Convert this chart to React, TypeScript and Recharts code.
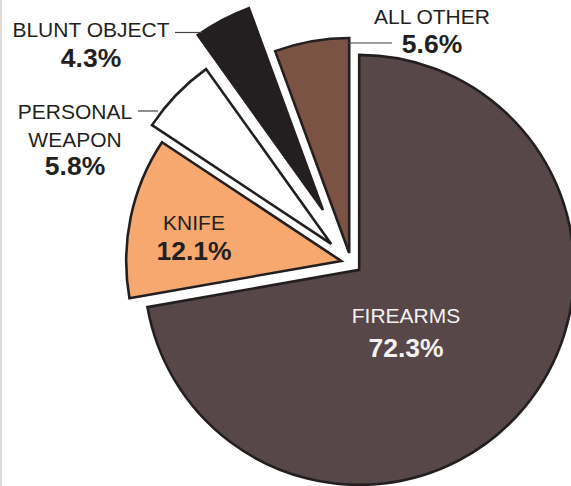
import React from 'react';
import { PieChart, Pie, Cell } from 'recharts';

// ---- data ----
const categories = ['FIREARMS', 'KNIFE', 'PERSONAL WEAPON', 'BLUNT OBJECT', 'ALL OTHER'];
const shares = [72.3, 12.1, 5.8, 4.3, 5.6];
const labelLines = [['FIREARMS'], ['KNIFE'], ['PERSONAL', 'WEAPON'], ['BLUNT OBJECT'], ['ALL OTHER']];
const pctLabels = ['72.3%', '12.1%', '5.8%', '4.3%', '5.6%'];

// ---- styling ----
const colors = ['#574748', '#F6A86E', '#FFFFFF', '#231F20', '#7B5345'];
const explode = [10.7, 10, 27.5, 60, 10.2];
const textColors = ['#F4F1F1', '#231F20', '#231F20', '#231F20', '#231F20'];
// label anchor: [centerX, first line baseline]
const labelPos = [
  [406, 323],
  [194, 230],
  [75, 119],
  [91, 37],
  [432, 24],
];
const pctBaseline = [357, 260, 175, 67, 53];
const leaders: (number[] | null)[] = [null, null, [138, 111, 158, 111], [175, 32.5, 202, 32.5], [347, 43, 392, 43]];

const CX = 351;
const CY = 263;
const R = 215;

const data = categories.map((name, i) => ({ name, value: shares[i] }));
const total = shares.reduce((a, b) => a + b, 0);

function midAngleDeg(i: number) {
  let before = 0;
  for (let k = 0; k < i; k++) before += shares[k];
  return ((before + shares[i] / 2) / total) * 360;
}

const FONT = '"Liberation Sans", Arial, Helvetica, sans-serif';

const renderLabels = (props: any) => {
  const i = props.index;
  const [x, y] = labelPos[i];
  const lines = labelLines[i];
  const lh = 27.5;
  return (
    <g key={`lbl-${i}`}>
      {leaders[i] && (
        <line
          x1={leaders[i]![0]}
          y1={leaders[i]![1]}
          x2={leaders[i]![2]}
          y2={leaders[i]![3]}
          stroke="#444"
          strokeWidth={1.2}
        />
      )}
      {lines.map((t, k) => (
        <text
          key={k}
          x={x}
          y={y + k * lh}
          textAnchor="middle"
          fill={textColors[i]}
          fontFamily={FONT}
          fontSize={21}
        >
          {t}
        </text>
      ))}
      <text
        x={x}
        y={pctBaseline[i]}
        textAnchor="middle"
        fill={textColors[i]}
        fontFamily={FONT}
        fontSize={26.5}
        fontWeight="bold"
      >
        {pctLabels[i]}
      </text>
    </g>
  );
};

export default function App() {
  return (
    <div style={{ position: 'fixed', left: 0, top: 0, width: 571, height: 486, background: '#fff' }}>
      <div style={{ position: 'absolute', left: 0, top: 0, width: 2, height: 486, background: '#e2dbd8' }} />
      <PieChart width={571} height={486} margin={{ top: 0, right: 0, bottom: 0, left: 0 }}>
        {categories.map((_, i) => {
          const m = (midAngleDeg(i) * Math.PI) / 180;
          const cx = CX + explode[i] * Math.sin(m);
          const cy = CY - explode[i] * Math.cos(m);
          return (
            <Pie
              key={i}
              data={data}
              dataKey="value"
              nameKey="name"
              cx={cx}
              cy={cy}
              innerRadius={0}
              outerRadius={R}
              startAngle={90}
              endAngle={-270}
              isAnimationActive={false}
              labelLine={false}
              label={false}
            >
              {data.map((_, k) => (
                <Cell
                  key={k}
                  fill={k === i ? colors[k] : 'none'}
                  stroke={k === i ? '#231F20' : 'none'}
                  strokeWidth={k === i ? 2.6 : 0}
                />
              ))}
            </Pie>
          );
        })}
        <Pie
          data={data}
          dataKey="value"
          cx={CX}
          cy={CY}
          outerRadius={R}
          startAngle={90}
          endAngle={-270}
          isAnimationActive={false}
          labelLine={false}
          label={renderLabels}
        >
          {data.map((_, k) => (
            <Cell key={k} fill="none" stroke="none" />
          ))}
        </Pie>
      </PieChart>
    </div>
  );
}
